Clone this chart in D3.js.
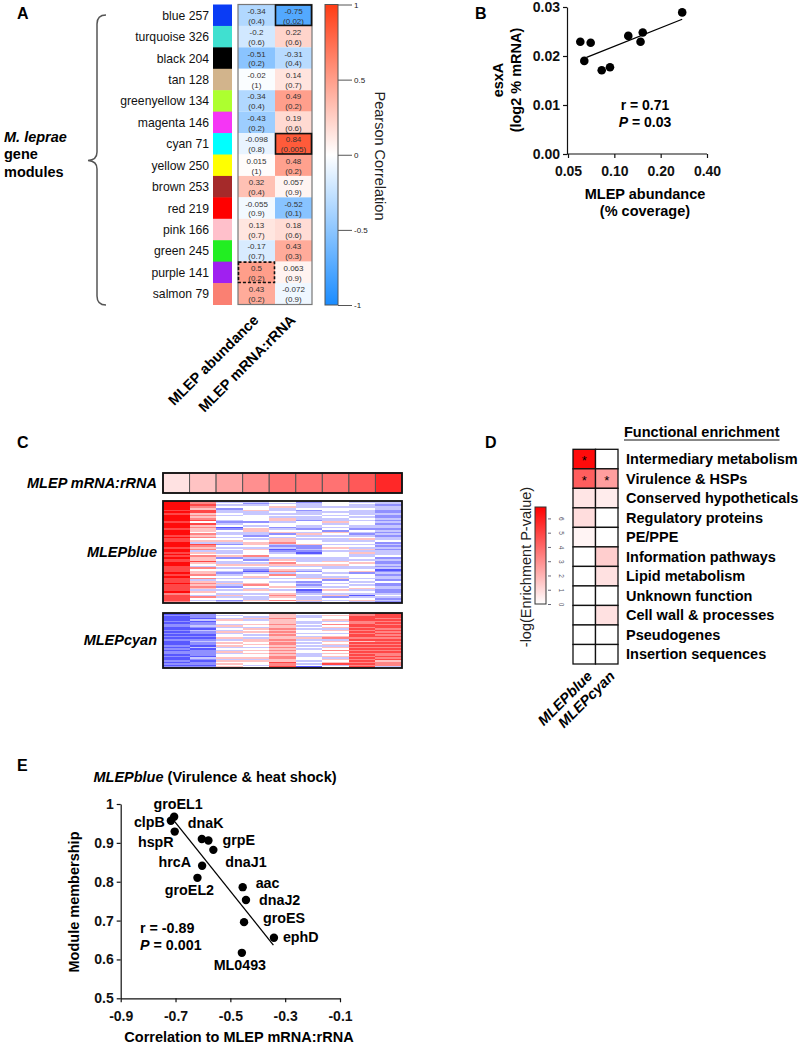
<!DOCTYPE html>
<html><head><meta charset="utf-8">
<script src="https://cdn.jsdelivr.net/npm/d3@7"></script>
<style>
body{margin:0;background:#fff}
svg{display:block}
text{font-family:"Liberation Sans",Arial,Helvetica,sans-serif}
</style>
</head><body>
<svg id="c" width="800" height="1044"></svg>
<script>
// ---------------- DATA ----------------
// Panel A
const modules = ["blue","turquoise","black","tan","greenyellow","magenta","cyan","yellow","brown","red","pink","green","purple","salmon"];
const moduleSizes = [257,326,204,128,134,146,71,250,253,219,166,245,141,79];
const moduleColors = ["#0a3cf5","#40e0d0","#000000","#d2b48c","#adff2f","#f535f5","#00ffff","#ffff00","#a52a2a","#ff0000","#ffc0cb","#22ee22","#a020f0","#fa8072"];
const traitNames = ["MLEP abundance","MLEP mRNA:rRNA"];
const corAbundance = [-0.34,-0.2,-0.51,-0.02,-0.34,-0.43,-0.098,0.015,0.32,-0.055,0.13,-0.17,0.5,0.43];
const pAbundance = ["0.4","0.6","0.2","1","0.4","0.2","0.8","1","0.4","0.9","0.7","0.7","0.2","0.2"];
const corMrna = [-0.75,0.22,-0.31,0.14,0.49,0.19,0.84,0.48,0.057,-0.52,0.18,0.43,0.063,-0.072];
const pMrna = ["0.02","0.6","0.4","0.7","0.2","0.6","0.005","0.2","0.9","0.1","0.6","0.3","0.9","0.9"];
const corTicks = [1,0.5,0,-0.5,-1];
const highlightModules = ["blue","cyan","purple"];
const highlightTraits = ["MLEP mRNA:rRNA","MLEP mRNA:rRNA","MLEP abundance"];
const highlightDashed = [false,false,true];

// Panel B
const abundanceB = [0.0601,0.0702,0.0638,0.0828,0.0937,0.1232,0.148,0.153,0.276];
const esxA = [0.0229,0.0227,0.0190,0.0171,0.0177,0.0241,0.0229,0.0248,0.0289];
const fitBx = [0.066,0.276];
const fitBy = [0.0197,0.0275];
const xTicksB = [0.05,0.1,0.2,0.4];
const yTicksB = [0,0.01,0.02,0.03];

// Panel C  (levels 0 = strong blue, 4 = white, 8 = strong red)
const mrnaRatio = [0.12,0.25,0.36,0.47,0.58,0.58,0.59,0.70,0.90];
const blueCols = [
 "8888878788 8878887888 7877888788 7878778877 7787877787 7778677776",
 "6676577565 6747565546 5645376563 5465575436 4556463565 6535436434",
 "3434233434 4323412433 4345324343 3452433543 4323434353 2434353423",
 "3234453344 4424345533 2434554354 4463243543 2134534456 4354343354",
 "4345334343 5534423452 4355632312 3443546534 5636434344 5434565464",
 "2333423343 3244332435 3434452232 1343334534 3243354232 3412343353",
 "4443443434 3353434254 3433434543 4443354533 4434352434 3454352434",
 "3433433343 4344332432 3453434353 5334345433 4524434343 4534313453",
 "3323322322 3232332323 2334232323 3342322323 1232332422 3322343232"
];
const cyanCols = [
 "121112122 112121212 111212122 121121212",
 "222131223 213221212 322131222 213212212",
 "434354435 343534453 454534353 445354545",
 "443534454 354543435 545434545 445354434",
 "555655565 565656556 566565656 566557667",
 "433443343 434434353 434343443 334434341",
 "454453464 535434563 545354645 453545734",
 "667776677 676767767 576767676 767676767",
 "777676767 767676767 676767676 676756663"
];

// Panel D
const categoriesD = ["Intermediary metabolism","Virulence & HSPs","Conserved hypotheticals","Regulatory proteins","PE/PPE","Information pathways","Lipid metabolism","Unknown function","Cell wall & processes","Pseudogenes","Insertion sequences"];
const modulesD = ["MLEPblue","MLEPcyan"];
const enrichBlue = [6.5,4.3,0.7,0.9,0.3,0,0,0,0,0,0];
const enrichCyan = [0,2.6,0.5,0,0,1.3,0.8,0,0.8,0,0];
const sigBlue = [1,1,0,0,0,0,0,0,0,0,0];
const sigCyan = [0,1,0,0,0,0,0,0,0,0,0];
const enrichTicks = [0,1,2,3,4,5,6];

// Panel E
const genesE = ["groEL1","clpB","hspR","dnaK","grpE","dnaJ1","hrcA","groEL2","aac","dnaJ2","groES","ephD","ML0493"];
const corE = [-0.705,-0.717,-0.703,-0.604,-0.580,-0.562,-0.603,-0.620,-0.455,-0.443,-0.450,-0.341,-0.458];
const mmE = [0.967,0.957,0.929,0.910,0.906,0.882,0.841,0.810,0.786,0.753,0.696,0.656,0.617];
const fitEx = [-0.708,-0.343];
const fitEy = [0.959,0.637];
const xTicksE = [-0.9,-0.7,-0.5,-0.3,-0.1];
const yTicksE = [0.5,0.6,0.7,0.8,0.9,1];

// ---------------- DRAW ----------------
const svg = d3.select("#c");
const FONT = '"Liberation Sans",Arial,sans-serif';
const FS = 14.5;
function label(t,x,y){svg.append("text").attr("x",x).attr("y",y).attr("font-size",16).attr("font-weight","bold").text(t);}

// ===== Panel A =====
label("A",17,19);
const yA = d3.scaleBand().domain(modules).range([4.5,304.5]);
const xA = d3.scaleBand().domain(traitNames).range([238,312]);
const corColor = d3.scaleLinear().domain([-1,0,1]).range(["#1a8cff","#ffffff","#ff3c14"]);
const gA = svg.append("g");
gA.selectAll("rect.mod").data(modules).join("rect")
  .attr("x",213).attr("width",19).attr("y",d=>yA(d)).attr("height",yA.bandwidth()+0.5)
  .attr("fill",(d,i)=>moduleColors[i]);
gA.selectAll("text.mod").data(modules).join("text")
  .attr("x",209).attr("y",d=>yA(d)+yA.bandwidth()/2+4.5).attr("text-anchor","end")
  .attr("font-size",12.2).attr("fill","#111").text((d,i)=>d+" "+moduleSizes[i]);
const cellsA = [];
modules.forEach((m,i)=>{
  cellsA.push({m,t:traitNames[0],v:corAbundance[i],p:pAbundance[i]});
  cellsA.push({m,t:traitNames[1],v:corMrna[i],p:pMrna[i]});
});
gA.selectAll("rect.cell").data(cellsA).join("rect")
  .attr("x",d=>xA(d.t)).attr("y",d=>yA(d.m)).attr("width",xA.bandwidth()).attr("height",yA.bandwidth())
  .attr("fill",d=>corColor(d.v));
gA.selectAll("text.v").data(cellsA).join("text")
  .attr("x",d=>xA(d.t)+xA.bandwidth()/2).attr("y",d=>yA(d.m)+yA.bandwidth()/2-1.5)
  .attr("text-anchor","middle").attr("font-size",8).attr("fill","#333").text(d=>d.v);
gA.selectAll("text.p").data(cellsA).join("text")
  .attr("x",d=>xA(d.t)+xA.bandwidth()/2).attr("y",d=>yA(d.m)+yA.bandwidth()/2+8.3)
  .attr("text-anchor","middle").attr("font-size",8).attr("fill","#333").text(d=>"("+d.p+")");
gA.append("rect").attr("x",238).attr("y",4.5).attr("width",74).attr("height",300)
  .attr("fill","none").attr("stroke","#777").attr("stroke-width",1.2);
highlightModules.forEach((m,i)=>{
  gA.append("rect").attr("x",xA(highlightTraits[i])+0.5).attr("y",yA(m)+0.5)
    .attr("width",xA.bandwidth()-1).attr("height",yA.bandwidth()-1)
    .attr("fill","none").attr("stroke","#111").attr("stroke-width",1.6)
    .attr("stroke-dasharray",highlightDashed[i]?"3,2":null);
});
traitNames.forEach(t=>{
  const cx = xA(t)+xA.bandwidth()/2+3;
  svg.append("text").attr("transform",`translate(${cx},321) rotate(-45)`).attr("text-anchor","end")
    .attr("font-size",FS).attr("font-weight","bold").text(t);
});
svg.append("path").attr("d","M106,15 Q97,15 97,24 L97,152 Q97,160 88,160.5 Q97,161 97,169 L97,296 Q97,305 106,305")
  .attr("fill","none").attr("stroke","#555").attr("stroke-width",1.5);
svg.append("text").attr("x",4).attr("y",142).attr("font-size",FS).attr("font-weight","bold").attr("font-style","italic").text("M. leprae");
svg.append("text").attr("x",4).attr("y",159).attr("font-size",FS).attr("font-weight","bold").text("gene");
svg.append("text").attr("x",4).attr("y",177).attr("font-size",FS).attr("font-weight","bold").text("modules");
const defs = svg.append("defs");
const gradA = defs.append("linearGradient").attr("id","gA").attr("x1",0).attr("x2",0).attr("y1",0).attr("y2",1);
gradA.selectAll("stop").data([1,0.5,0,-0.5,-1]).join("stop")
  .attr("offset",(d,i)=>i/4).attr("stop-color",d=>corColor(d));
const yCbA = d3.scaleLinear().domain([-1,1]).range([305,4.5]);
svg.append("rect").attr("x",325).attr("y",4.5).attr("width",13).attr("height",300.5)
  .attr("fill","url(#gA)").attr("stroke","#555").attr("stroke-width",1);
const gCbA = svg.append("g").attr("transform","translate(338,0)")
  .call(d3.axisRight(yCbA).tickValues(corTicks).tickSize(14).tickFormat(d=>d));
gCbA.select(".domain").remove();
gCbA.selectAll("line").attr("stroke","#555");
gCbA.selectAll("text").attr("font-size",8).attr("font-family",FONT).attr("fill","#222").attr("x",16);
svg.append("text").attr("transform","translate(375,156) rotate(90)").attr("text-anchor","middle")
  .attr("font-size",FS).attr("fill","#222").text("Pearson Correlation");

// ===== Panel B =====
label("B",475,19);
const xB = d3.scaleLog().base(2).domain([0.05,0.4]).range([568,707]);
const yB = d3.scaleLinear().domain([0,0.03]).range([154,7]);
const gB = svg.append("g");
const axXB = gB.append("g").attr("transform","translate(0,154)")
  .call(d3.axisBottom(xB).tickValues(xTicksB).tickFormat(d3.format(".2f")).tickSize(4).tickSizeOuter(0));
const axYB = gB.append("g").attr("transform","translate(567,0)")
  .call(d3.axisLeft(yB).tickValues(yTicksB).tickFormat(d3.format(".2f")).tickSize(4).tickSizeOuter(0));
[axXB,axYB].forEach(a=>{
  a.selectAll("text").attr("font-size",14).attr("font-weight","bold").attr("font-family",FONT).attr("fill","#111");
  a.select(".domain").attr("stroke","#111").attr("stroke-width",1.2);
  a.selectAll("line").attr("stroke","#111").attr("stroke-width",1.2);
});
axXB.select(".domain").attr("d","M567,0H707");
axXB.selectAll("text").attr("dy","1.1em");
gB.selectAll("circle").data(abundanceB).join("circle")
  .attr("cx",d=>xB(d)).attr("cy",(d,i)=>yB(esxA[i])).attr("r",4.3).attr("fill","#000");
gB.append("line").attr("x1",xB(fitBx[0])).attr("y1",yB(fitBy[0])).attr("x2",xB(fitBx[1])).attr("y2",yB(fitBy[1]))
  .attr("stroke","#000").attr("stroke-width",1.3);
gB.append("text").attr("x",645).attr("y",110).attr("text-anchor","middle").attr("font-size",14).attr("font-weight","bold").text("r = 0.71");
const tP = gB.append("text").attr("x",645).attr("y",127).attr("text-anchor","middle").attr("font-size",14).attr("font-weight","bold");
tP.append("tspan").attr("font-style","italic").text("P");
tP.append("tspan").text(" = 0.03");
gB.append("text").attr("transform","translate(503,80) rotate(-90)").attr("text-anchor","middle").attr("font-size",FS).attr("font-weight","bold").text("esxA");
gB.append("text").attr("transform","translate(521,80) rotate(-90)").attr("text-anchor","middle").attr("font-size",FS).attr("font-weight","bold").text("(log2 % mRNA)");
gB.append("text").attr("x",645).attr("y",199).attr("text-anchor","middle").attr("font-size",FS).attr("font-weight","bold").text("MLEP abundance");
gB.append("text").attr("x",645).attr("y",216).attr("text-anchor","middle").attr("font-size",FS).attr("font-weight","bold").text("(% coverage)");

// ===== Panel C =====
label("C",17,448);
const xC = d3.scaleBand().domain(d3.range(mrnaRatio.length)).range([163,402]);
const redScale = d3.scaleLinear().domain([0,1]).range(["#ffffff","#ff1010"]);
const levelColor = d3.scaleLinear().domain([0,4,8]).range(["#2020ff","#ffffff","#ff0a0a"]);
const gC = svg.append("g");
gC.selectAll("rect.top").data(mrnaRatio).join("rect")
  .attr("x",(d,i)=>xC(i)).attr("y",473).attr("width",xC.bandwidth()).attr("height",20)
  .attr("fill",d=>redScale(d)).attr("stroke","#555").attr("stroke-width",1);
gC.append("rect").attr("x",163).attr("y",473).attr("width",239).attr("height",20).attr("fill","none").attr("stroke","#111").attr("stroke-width",1.8);
function heat(cols,y0,y1){
  const parsed = cols.map(s=>s.replace(/ /g,"").split("").map(Number));
  const n = parsed[0].length;
  const yS = d3.scaleBand().domain(d3.range(n)).range([y0,y1]);
  const cells=[];
  parsed.forEach((col,ci)=>col.forEach((v,ri)=>cells.push({ci,ri,v})));
  gC.append("g").selectAll("rect").data(cells).join("rect")
    .attr("x",d=>xC(d.ci)).attr("y",d=>yS(d.ri)).attr("width",xC.bandwidth()+0.3).attr("height",yS.bandwidth()+0.3)
    .attr("fill",d=>levelColor(d.v)).attr("shape-rendering","crispEdges");
  gC.append("rect").attr("x",163).attr("y",y0).attr("width",239).attr("height",y1-y0).attr("fill","none").attr("stroke","#111").attr("stroke-width",1.8);
}
heat(blueCols,501,603);
heat(cyanCols,613,668);
function italLabel(t,x,y){svg.append("text").attr("x",x).attr("y",y).attr("text-anchor","end").attr("font-size",FS).attr("font-weight","bold").attr("font-style","italic").text(t);}
italLabel("MLEP mRNA:rRNA",157,488);
italLabel("MLEPblue",157,557);
italLabel("MLEPcyan",157,645);

// ===== Panel D =====
label("D",485,448);
const yD = d3.scaleBand().domain(categoriesD).range([449.3,664]);
const xD = d3.scaleBand().domain(modulesD).range([573,618]);
const enrColor = d3.scaleLinear().domain([0,6.8]).range(["#ffffff","#ff0000"]);
const cellsD=[];
categoriesD.forEach((c,i)=>{
  cellsD.push({c,m:modulesD[0],v:enrichBlue[i],s:sigBlue[i]});
  cellsD.push({c,m:modulesD[1],v:enrichCyan[i],s:sigCyan[i]});
});
const gD = svg.append("g");
gD.selectAll("rect").data(cellsD).join("rect")
  .attr("x",d=>xD(d.m)).attr("y",d=>yD(d.c)).attr("width",xD.bandwidth()).attr("height",yD.bandwidth())
  .attr("fill",d=>enrColor(d.v)).attr("stroke","#111").attr("stroke-width",1.3);
gD.selectAll("text.star").data(cellsD.filter(d=>d.s)).join("text")
  .attr("x",d=>xD(d.m)+xD.bandwidth()/2).attr("y",d=>yD(d.c)+yD.bandwidth()/2+6)
  .attr("text-anchor","middle").attr("font-size",13).text("*");
gD.selectAll("text.cat").data(categoriesD).join("text")
  .attr("x",626).attr("y",d=>yD(d)+yD.bandwidth()/2+5).attr("font-size",FS).attr("font-weight","bold").text(d=>d);
const head = gD.append("text").attr("x",624).attr("y",437).attr("font-size",FS).attr("font-weight","bold").text("Functional enrichment");
const hw = head.node().getComputedTextLength();
gD.append("line").attr("x1",624).attr("x2",624+hw).attr("y1",440).attr("y2",440).attr("stroke","#111").attr("stroke-width",1.2);
modulesD.forEach(m=>{
  gD.append("text").attr("transform",`translate(${xD(m)+xD.bandwidth()/2+9},677) rotate(-45)`).attr("text-anchor","end")
    .attr("font-size",FS).attr("font-weight","bold").attr("font-style","italic").text(m);
});
const gradD = defs.append("linearGradient").attr("id","gD").attr("x1",0).attr("x2",0).attr("y1",1).attr("y2",0);
gradD.append("stop").attr("offset",0).attr("stop-color",enrColor(0));
gradD.append("stop").attr("offset",1).attr("stop-color",enrColor(6.8));
const yCbD = d3.scaleLinear().domain([0,6.8]).range([604,507]);
gD.append("rect").attr("x",535).attr("y",507).attr("width",11).attr("height",97).attr("fill","url(#gD)").attr("stroke","#333").attr("stroke-width",1);
const gCbD = gD.append("g").attr("transform","translate(548,0)")
  .call(d3.axisRight(yCbD).tickValues(enrichTicks).tickFormat(d3.format("d")).tickSize(3));
gCbD.select(".domain").remove();
gCbD.selectAll("line").attr("stroke","#667");
gCbD.selectAll("text").attr("font-size",6.5).attr("font-family",FONT).attr("fill","#556")
  .attr("x",0).attr("dy",0).attr("y",0).attr("text-anchor","middle").attr("dominant-baseline","central")
  .attr("transform","translate(13,0) rotate(90)");
gD.append("text").attr("transform","translate(531,567) rotate(-90)").attr("text-anchor","middle")
  .attr("font-size",FS).attr("fill","#222").text("-log(Enrichment P-value)");

// ===== Panel E =====
label("E",17,771);
const xE = d3.scaleLinear().domain([-0.9,-0.1]).range([120.7,340]);
const yE = d3.scaleLinear().domain([0.5,1]).range([998.3,804]);
const gE = svg.append("g");
const axXE = gE.append("g").attr("transform","translate(0,998.3)")
  .call(d3.axisBottom(xE).tickValues(xTicksE).tickFormat(d3.format(".1f")).tickSize(4).tickSizeOuter(0));
const axYE = gE.append("g").attr("transform","translate(120.7,0)")
  .call(d3.axisLeft(yE).tickValues(yTicksE).tickFormat(d=>d===1?"1":d3.format(".1f")(d)).tickSize(4).tickSizeOuter(0));
[axXE,axYE].forEach(a=>{
  a.selectAll("text").attr("font-size",14).attr("font-weight","bold").attr("font-family",FONT).attr("fill","#111");
  a.select(".domain").attr("stroke","#111").attr("stroke-width",1.2);
  a.selectAll("line").attr("stroke","#111").attr("stroke-width",1.2);
});
axXE.selectAll("text").attr("dy","1.1em").text(d=>d3.format(".1f")(d).replace("\u2212","-"));
gE.selectAll("circle").data(corE).join("circle")
  .attr("cx",d=>xE(d)).attr("cy",(d,i)=>yE(mmE[i])).attr("r",4.2).attr("fill","#000");
gE.append("line").attr("x1",xE(fitEx[0])).attr("y1",yE(fitEy[0])).attr("x2",xE(fitEx[1])).attr("y2",yE(fitEy[1]))
  .attr("stroke","#000").attr("stroke-width",1.3);
const labelLayout = {
  groEL1:["middle",4,-8], clpB:["end",-6,6], hspR:["end",-1,15], dnaK:["start",-14,-11],
  grpE:["start",14,4], dnaJ1:["start",12,17], hrcA:["end",-11,1], groEL2:["middle",-8,17],
  aac:["start",13,1], dnaJ2:["start",13,5], groES:["start",19,1], ephD:["start",9,4], ML0493:["middle",-2,17]
};
gE.selectAll("text.gene").data(genesE).join("text")
  .attr("x",(d,i)=>xE(corE[i])+labelLayout[d][1]).attr("y",(d,i)=>yE(mmE[i])+labelLayout[d][2])
  .attr("text-anchor",d=>labelLayout[d][0]).attr("font-size",14.3).attr("font-weight","bold").text(d=>d);
gE.append("text").attr("x",140).attr("y",933).attr("font-size",14.3).attr("font-weight","bold").text("r = -0.89");
const tPE = gE.append("text").attr("x",140).attr("y",950).attr("font-size",14.3).attr("font-weight","bold");
tPE.append("tspan").attr("font-style","italic").text("P");
tPE.append("tspan").text(" = 0.001");
const tTitle = gE.append("text").attr("x",215).attr("y",782).attr("text-anchor","middle").attr("font-size",FS).attr("font-weight","bold");
tTitle.append("tspan").attr("font-style","italic").text("MLEPblue");
tTitle.append("tspan").text(" (Virulence & heat shock)");
gE.append("text").attr("transform","translate(79,902) rotate(-90)").attr("text-anchor","middle").attr("font-size",FS).attr("font-weight","bold").text("Module membership");
gE.append("text").attr("x",239).attr("y",1042).attr("text-anchor","middle").attr("font-size",FS).attr("font-weight","bold").text("Correlation to MLEP mRNA:rRNA");
</script>
</body></html>
